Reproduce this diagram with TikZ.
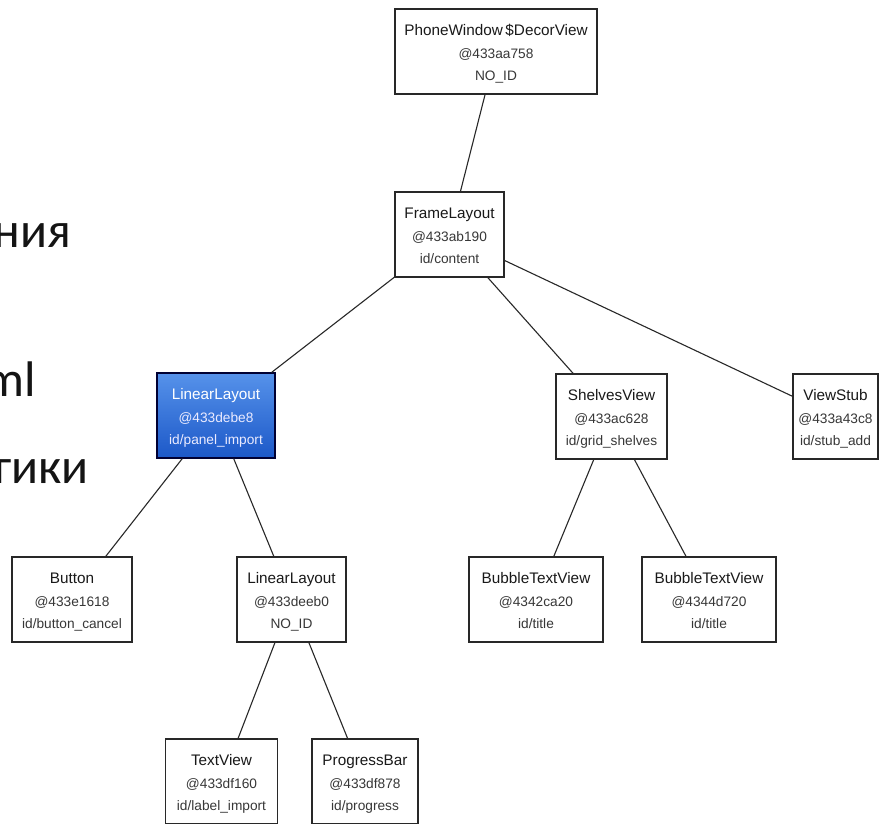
\documentclass[tikz,border=0pt]{standalone}
\usepackage{fontspec}
\setmainfont{Liberation Sans}
\newfontfamily\slidefont{Carlito}
\definecolor{blueTop}{RGB}{86,146,234}
\definecolor{blueBot}{RGB}{28,88,200}
\definecolor{lineGray}{RGB}{40,40,40}
\definecolor{subGray}{RGB}{55,55,55}
\newcommand{\ttl}[1]{{\fontsize{15.3}{22.5}\selectfont #1}}
\newcommand{\sbl}[1]{{\color{subGray}#1}}
\newcommand{\sbw}[1]{{\color{white!92!blue}#1}}
\begin{document}
\begin{tikzpicture}[x=1pt,y=-1pt,
  vbox/.style={draw=lineGray,line width=1.2pt,fill=white,inner sep=0pt,
    text height=71.5pt,text depth=13.5pt,
    minimum height=85pt,align=center,font=\fontsize{13.7}{22.5}\selectfont,text=black!90},
  selbox/.style={vbox,draw=black!80!blue,top color=blueTop,bottom color=blueBot,text=white},
  edge/.style={draw=lineGray,line width=1.1pt},
  slide/.style={font=\slidefont\fontsize{50}{60}\selectfont,text=black!92,inner sep=0pt,anchor=base east}]
\useasboundingbox (0,0) rectangle (880,823);
\clip (0,0) rectangle (880,823);
\fill[white] (0,0) rectangle (880,823);
% slide text fragments
\node[slide] (t1) at (71,247) {ния};
\node[slide] (t2) at (36,396) {ml};
\node[slide] (t3) at (89,483) {гики};
% nodes
\node[vbox,minimum width=202pt] (decor) at (496,51.5) {\ttl{PhoneWindow\,\$DecorView}\\\sbl{@433aa758}\\\sbl{NO\_ID}};
\node[vbox,minimum width=109pt] (frame) at (449.5,234.5) {\ttl{FrameLayout}\\\sbl{@433ab190}\\\sbl{id/content}};
\node[selbox,minimum width=118pt] (ll1) at (216,415.5) {\ttl{LinearLayout}\\\sbw{@433debe8}\\\sbw{id/panel\_import}};
\node[vbox,minimum width=111pt] (shelves) at (611.5,416.5) {\ttl{ShelvesView}\\\sbl{@433ac628}\\\sbl{id/grid\_shelves}};
\node[vbox,minimum width=85pt] (stub) at (835.5,416.5) {\ttl{ViewStub}\\\sbl{@433a43c8}\\\sbl{id/stub\_add}};
\node[vbox,minimum width=120pt] (button) at (72,599.5) {\ttl{Button}\\\sbl{@433e1618}\\\sbl{id/button\_cancel}};
\node[vbox,minimum width=109pt] (ll2) at (291.5,599.5) {\ttl{LinearLayout}\\\sbl{@433deeb0}\\\sbl{NO\_ID}};
\node[vbox,minimum width=134pt] (btv1) at (536,599.5) {\ttl{BubbleTextView}\\\sbl{@4342ca20}\\\sbl{id/title}};
\node[vbox,minimum width=134pt] (btv2) at (709,599.5) {\ttl{BubbleTextView}\\\sbl{@4344d720}\\\sbl{id/title}};
\node[vbox,minimum width=112pt] (tv) at (221.5,781.5) {\ttl{TextView}\\\sbl{@433df160}\\\sbl{id/label\_import}};
\node[vbox,minimum width=106pt] (pb) at (365,781.5) {\ttl{ProgressBar}\\\sbl{@433df878}\\\sbl{id/progress}};
% connectors
\draw[edge] (decor) -- (frame);
\draw[edge] (frame) -- (ll1);
\draw[edge] (frame) -- (shelves);
\draw[edge] (frame) -- (stub);
\draw[edge] (ll1) -- (button);
\draw[edge] (ll1) -- (ll2);
\draw[edge] (shelves) -- (btv1);
\draw[edge] (shelves) -- (btv2);
\draw[edge] (ll2) -- (tv);
\draw[edge] (ll2) -- (pb);
\end{tikzpicture}
\end{document}
